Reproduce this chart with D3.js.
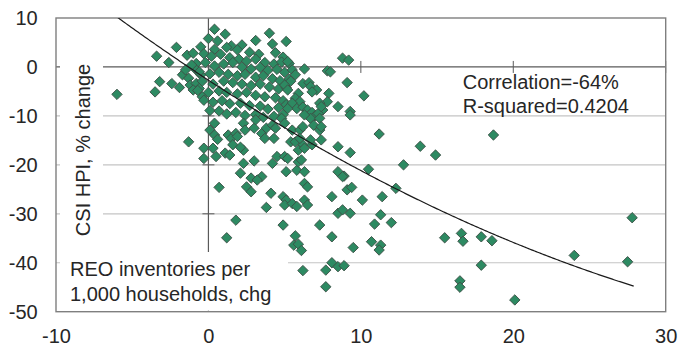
<!DOCTYPE html>
<html>
<head>
<meta charset="utf-8">
<script src="https://cdn.jsdelivr.net/npm/d3@7"></script>
<style>
  html, body { margin: 0; padding: 0; background: #fff; }
  #chart { width: 678px; height: 348px; }
  text { font-family: "Liberation Sans", Arial, sans-serif; fill: #262626; }
</style>
</head>
<body>
<div id="chart"></div>
<script>
// change in REO inventories per 1,000 households (x) vs CSI HPI % change (y)
const reoChg = [
  -6.0, -3.4, -2.6, -2.1, -3.2, -3.5, -2.4, -1.9, -1.4, -1.0, -1.7, -1.3, -1.2, -0.8, -0.4, -1.3, -0.3, -0.3, -0.8, -0.8, -1.1, -1.5, -0.5, -0.6, -1.0,
  0.4, 1.1, 3.1, 4.0, 5.1, 4.2, 2.2, 1.5, 0.6, 0.0, -0.5, 0.4, 1.2, 1.9, 2.7, 3.3, 4.4, 4.9,
  -0.3, 0.2, 0.8, 1.4, 2.0, 2.5, 3.1, 3.7, 4.3, 4.8, 5.3,
  -0.2, 0.4, 1.0, 1.6, 2.2, 2.8, 3.4, 3.9, 4.5, 5.0,
  -0.6, 0.1, 0.7, 1.3, 1.9, 2.4, 3.1, 3.6, 4.2, 4.7, 5.3,
  -0.4, 0.3, 1.0, 1.6, 2.2, 2.8, 3.4, 4.0, 4.6, 5.1,
  -0.7, 0.0, 0.7, 1.2, 1.9, 2.5, 3.1, 3.7, 4.4, 4.9,
  -0.3, 0.3, 0.9, 1.4, 2.1, 2.7, 3.4, 3.9, 4.6, 5.1,
  0.1, 0.7, 1.2, 1.8, 2.4, 3.1, 3.6, 4.3, 4.9,
  8.8, 9.2, 7.8, 6.3, 5.2, 5.5, 5.7, 5.4, 9.1, 10.2, 5.0, 5.2, 6.2, 6.6, 6.7, 7.1, 6.8, 7.9,
  7.8, 7.3, 7.5, 8.5, 9.3, 5.9, 5.7, 6.0, 5.5, 5.8, 6.2, 6.5, 6.8, 7.0, 7.2, 7.4, 5.2, 8.0,
  11.2, 18.7, 13.9, 14.9, 8.5, 9.3, 12.8, 10.5, 8.5, 8.9, 9.3,
  0.4, 0.1, 0.4, 0.6, 1.3, 1.5, 1.8, 1.9, 1.6, 2.3, 2.4, 3.0, 3.1, 3.5, 3.7, 3.8, 4.2, 4.4, 4.3, 4.8,
  5.0, 5.5, 5.4, 5.7, 6.0, 6.2, 6.7, 6.9, 7.3, 7.4, 6.8, 7.3, 6.3, 0.3, 0.5,
  2.8, 2.5, 2.8, 3.5, 3.2, 4.9, 5.1, 5.0, 5.5, 5.8, 6.3, 6.5, 6.3, 6.5,
  3.0, 1.1, 1.4, 2.3, 2.1, 2.3, 4.5, 5.0, 5.2, 5.1, 5.8, 5.9, 4.2, 5.9, 7.4, 6.2, 6.0, 6.7, 6.3, 6.1,
  0.7, 1.8, 1.2, 2.1, 3.8, 4.1, 4.9, 5.7, 5.6, 5.9, 6.1, 6.2, 6.3, 7.3, 7.7, 7.7,
  8.1, 8.1, 8.1, 8.5, 8.5, 8.9, 9.5, 8.8, 9.3, 10.7, 11.3, 11.2, 11.3, 10.9,
  8.8, 9.1, 9.4, 10.1, 11.4, 12.3, 12.0,
  15.5, 16.6, 16.7, 17.9, 18.6, 17.9, 16.5, 16.5, 20.1, 24.0, 27.8, 27.5
];
const hpiChg = [
  -5.6, 2.2, 0.9, 4.0, -3.0, -5.1, -3.4, -4.2, 2.4, 2.8, -1.6, -2.3, -3.7, -3.4, -6.1, -15.3, -16.6, -18.7, 0.7, -0.6, 0.4, -0.6, -1.6, -4.4, -4.7,
  7.7, 6.7, 5.4, 6.9, 5.2, 4.7, 4.5, 4.3, 5.3, 5.8, 4.1, 3.6, 4.0, 3.5, 3.0, 2.6, 2.9, 2.0,
  2.7, 2.2, 2.6, 1.9, 1.6, 1.2, 1.6, 0.9, 0.6, 1.0, 0.7,
  0.9, 0.2, 0.6, 0.9, 0.0, -0.4, -0.1, -0.7, -0.5, -1.1,
  -1.0, -1.4, -1.1, -1.5, -1.8, -1.5, -2.1, -1.8, -2.4, -2.8, -2.5,
  -2.9, -3.5, -2.9, -3.2, -3.5, -3.8, -3.5, -4.1, -4.5, -4.2,
  -4.8, -5.2, -4.9, -5.2, -5.5, -5.2, -5.8, -6.1, -6.3, -6.9,
  -6.8, -7.2, -6.9, -7.5, -7.4, -7.9, -8.0, -8.6, -8.3, -7.7,
  -8.9, -9.0, -9.6, -9.3, -9.9, -9.7, -10.3, -10.1, -9.7,
  1.8, 1.4, -0.8, -0.4, 1.1, -0.6, -1.6, -2.9, -3.2, -5.9, -3.7, -4.7, -3.4, -3.2, -4.0, -4.7, -5.1, -5.4,
  -7.1, -7.4, -8.8, -8.1, -9.1, -5.4, -6.4, -7.1, -7.4, -8.5, -8.2, -8.8, -9.3, -10.0, -9.5, -8.1, -8.5, -1.0,
  -13.7, -13.9, -16.2, -18.0, -16.3, -17.5, -20.0, -20.9, -21.4, -22.3, -9.8,
  -11.5, -12.9, -13.9, -14.8, -13.9, -14.6, -13.6, -14.2, -15.9, -11.5, -12.9, -12.5, -10.8, -13.6, -14.6, -12.5, -11.9, -12.5, -14.6, -10.5,
  -11.5, -12.9, -15.3, -15.3, -12.9, -15.9, -10.5, -11.9, -12.9, -14.9, -15.9, -10.5, -9.8, -16.6, -18.3,
  -22.7, -24.5, -25.5, -22.4, -23.1, -26.5, -27.2, -28.2, -27.9, -28.5, -27.2, -28.2, -23.8, -24.5,
  -19.2, -17.6, -18.0, -17.0, -16.4, -19.7, -18.3, -18.3, -18.7, -21.4, -21.1, -19.4, -19.7, -17.0, -12.2, -12.2, -14.6, -14.9, -16.6, -19.0,
  -24.6, -31.3, -34.9, -21.7, -28.7, -25.8, -32.3, -34.5, -36.4, -36.2, -37.5, -41.6, -21.4, -32.3, -41.5, -44.9,
  -26.5, -34.7, -40.0, -40.8, -29.9, -40.6, -36.9, -29.2, -29.9, -35.7, -36.4, -37.4, -30.2, -32.1,
  -22.4, -25.1, -24.6, -27.2, -26.5, -24.8, -31.8,
  -34.9, -34.0, -35.6, -34.7, -35.5, -40.5, -43.7, -45.0, -47.6, -38.5, -30.8, -39.8
];

const xTicks = [-10, 0, 10, 20, 30];
const yTicks = [10, 0, -10, -20, -30, -40, -50];
const gridValues = [-10, -20, -30, -40];

// polynomial trend (order 2) as shown on the chart
const fitCoef = [-2.70, -2.037, 0.01897];
const fitRange = [-6.0, 27.9];

const statNotes = ['Correlation=-64%', 'R-squared=0.4204'];
const xTitleLines = ['REO inventories per', '1,000 households, chg'];
const yTitle = 'CSI HPI, % change';

const points = reoChg.map((v, i) => ({ x: v, y: hpiChg[i] }));

const margin = { top: 18, right: 12.3, bottom: 36.3, left: 56 };
const fullWidth = 678, fullHeight = 348;
const width = fullWidth - margin.left - margin.right;
const height = fullHeight - margin.top - margin.bottom;

const svg = d3.select('#chart')
  .append('svg')
  .attr('width', fullWidth)
  .attr('height', fullHeight)
  .style('display', 'block')
  .append('g')
  .attr('transform', `translate(${margin.left},${margin.top})`);

const x = d3.scaleLinear().domain([-10, 30]).range([0, width]);
const y = d3.scaleLinear().domain([-50, 10]).range([height, 0]);

svg.append('defs').append('clipPath').attr('id', 'plot-clip')
  .append('rect').attr('width', width).attr('height', height);

// gridlines
svg.append('g').attr('class', 'grid')
  .selectAll('line').data(gridValues).join('line')
  .attr('x1', 0).attr('x2', width)
  .attr('y1', d => y(d)).attr('y2', d => y(d))
  .attr('stroke', '#c4c4c4').attr('stroke-width', 1.2);

// zero axes with cross ticks
const zeroAxes = svg.append('g').attr('class', 'zero-axes').attr('stroke', '#5a5a5a');
zeroAxes.append('line')
  .attr('x1', 0).attr('x2', width)
  .attr('y1', y(0)).attr('y2', y(0)).attr('stroke-width', 1.2);
zeroAxes.append('line')
  .attr('x1', x(0)).attr('x2', x(0))
  .attr('y1', 0).attr('y2', height).attr('stroke-width', 1.2);
zeroAxes.selectAll('.xt').data(xTicks.filter(t => t > 0)).join('line')
  .attr('class', 'xt')
  .attr('x1', d => x(d)).attr('x2', d => x(d))
  .attr('y1', y(0) - 6).attr('y2', y(0) + 6);
zeroAxes.selectAll('.yt').data(yTicks.filter(t => t !== 0 && t > -50 && t < 10)).join('line')
  .attr('class', 'yt')
  .attr('x1', x(0) - 6).attr('x2', x(0) + 6)
  .attr('y1', d => y(d)).attr('y2', d => y(d));

// frame
svg.append('rect')
  .attr('width', width).attr('height', height)
  .attr('fill', 'none').attr('stroke', '#7f7f7f').attr('stroke-width', 1.4);

// white boxes behind the two titles
svg.append('rect')
  .attr('x', 4).attr('y', 2).attr('width', 43).attr('height', 232)
  .attr('fill', '#fff');
svg.append('rect')
  .attr('x', 4).attr('y', 234).attr('width', 228).attr('height', height - 235)
  .attr('fill', '#fff');

// markers
svg.append('g').attr('class', 'points')
  .selectAll('path').data(points).join('path')
  .attr('d', d3.symbol().type(d3.symbolSquare).size(54))
  .attr('transform', d => `translate(${x(d.x)},${y(d.y)}) rotate(45)`)
  .attr('fill', '#2d8a62')
  .attr('stroke', '#3d5247')
  .attr('stroke-width', 0.9);

// trend curve
const fitLine = d3.line()
  .x(d => x(d))
  .y(d => y(fitCoef[0] + fitCoef[1] * d + fitCoef[2] * d * d));
svg.append('path')
  .datum(d3.range(fitRange[0], fitRange[1], 0.1).concat([fitRange[1]]))
  .attr('clip-path', 'url(#plot-clip)')
  .attr('d', fitLine)
  .attr('fill', 'none')
  .attr('stroke', '#1a1a1a')
  .attr('stroke-width', 1.2);

// tick labels (plain hyphen for negatives, as in the original)
svg.append('g').attr('class', 'axis y-axis')
  .call(d3.axisLeft(y).tickValues(yTicks).tickSize(0).tickPadding(18.3).tickFormat(d => String(d)))
  .call(g => g.select('.domain').remove())
  .selectAll('text')
  .attr('font-size', 20)
  .attr('dy', '0.32em');

svg.append('g').attr('class', 'axis x-axis')
  .attr('transform', `translate(0,${height})`)
  .call(d3.axisBottom(x).tickValues(xTicks).tickSize(0).tickPadding(16.8).tickFormat(d => String(d)))
  .call(g => g.select('.domain').remove())
  .selectAll('text')
  .attr('font-size', 20);

svg.selectAll('.axis text').style('font-family', '"Liberation Sans", Arial, sans-serif').attr('fill', '#262626');

// titles and stats
svg.append('text')
  .attr('transform', `translate(${90 - margin.left},${150 - margin.top}) rotate(-90)`)
  .attr('text-anchor', 'middle')
  .attr('font-size', 20)
  .text(yTitle);

svg.append('g').selectAll('text').data(xTitleLines).join('text')
  .attr('x', 70 - margin.left)
  .attr('y', (d, i) => 276 - margin.top + i * 24.7)
  .attr('font-size', 20)
  .text(d => d);

svg.append('g').selectAll('text').data(statNotes).join('text')
  .attr('x', 462.7 - margin.left)
  .attr('y', (d, i) => 89.3 - margin.top + i * 24)
  .attr('font-size', 20)
  .text(d => d);
</script>
</body>
</html>
